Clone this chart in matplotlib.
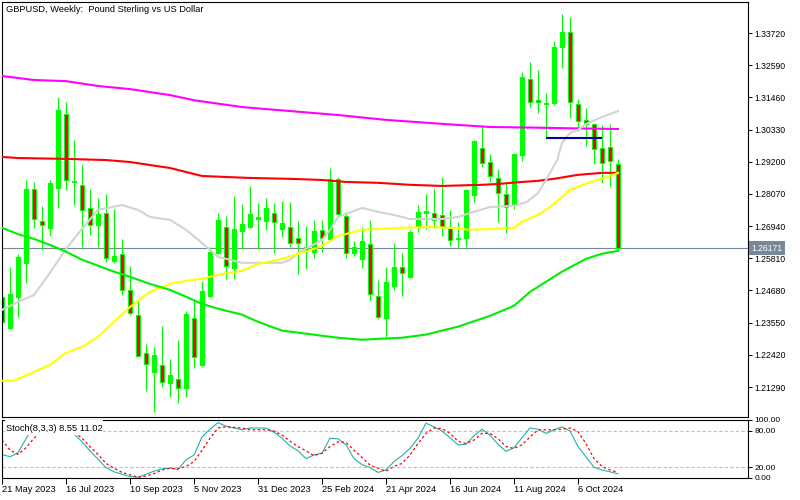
import matplotlib
matplotlib.use('Agg')
import matplotlib.pyplot as plt
import matplotlib.transforms as mtransforms
from matplotlib.patches import Rectangle
import numpy as np

plt.rcParams['font.family'] = ['Liberation Sans', 'DejaVu Sans']

# weekly candles, first bar = week of 21 May 2023
opens = [1.2445, 1.2337, 1.2445, 1.2565, 1.2824, 1.2712, 1.2688, 1.2828, 1.3088, 1.2850,
         1.2838, 1.2758, 1.2698, 1.2740, 1.2572, 1.2596, 1.2470, 1.2382, 1.2249, 1.2182,
         1.2207, 1.2144, 1.2158, 1.2126, 1.2372, 1.2207, 1.2449, 1.2600, 1.2691, 1.2547,
         1.2677, 1.2691, 1.2719, 1.2712, 1.2740, 1.2684, 1.2691, 1.2653, 1.2621, 1.2603,
         1.2681, 1.2649, 1.2859, 1.2730, 1.2600, 1.2579, 1.2631, 1.2449, 1.2372, 1.2484,
         1.2551, 1.2516, 1.2691, 1.2740, 1.2740, 1.2733, 1.2688, 1.2649, 1.2653, 1.2803,
         1.2968, 1.2919, 1.2863, 1.2807, 1.2772, 1.2944, 1.3210, 1.3137, 1.3123, 1.3126,
         1.3323, 1.3375, 1.3123, 1.3067, 1.3053, 1.2968, 1.2972, 1.2912]
highs = [1.2470, 1.2551, 1.2596, 1.2856, 1.2849, 1.2765, 1.2856, 1.3147, 1.3130, 1.2998,
         1.2909, 1.2824, 1.2793, 1.2807, 1.2754, 1.2649, 1.2554, 1.2431, 1.2280, 1.2270,
         1.2344, 1.2228, 1.2294, 1.2396, 1.2435, 1.2502, 1.2621, 1.2740, 1.2730, 1.2800,
         1.2772, 1.2835, 1.2775, 1.2793, 1.2775, 1.2782, 1.2779, 1.2712, 1.2695, 1.2716,
         1.2716, 1.2898, 1.2867, 1.2744, 1.2642, 1.2691, 1.2716, 1.2505, 1.2551, 1.2635,
         1.2600, 1.2681, 1.2768, 1.2807, 1.2824, 1.2867, 1.2751, 1.2709, 1.2824, 1.2996,
         1.3049, 1.2947, 1.2895, 1.2849, 1.2951, 1.3235, 1.3270, 1.3242, 1.3161, 1.3344,
         1.3439, 1.3428, 1.3140, 1.3109, 1.3056, 1.3049, 1.3053, 1.2930]
lows = [1.2310, 1.2333, 1.2375, 1.2495, 1.2688, 1.2610, 1.2660, 1.2758, 1.2821, 1.2768,
        1.2621, 1.2663, 1.2621, 1.2568, 1.2565, 1.2452, 1.2382, 1.2235, 1.2115, 1.2042,
        1.2129, 1.2094, 1.2073, 1.2094, 1.2196, 1.2203, 1.2445, 1.2596, 1.2509, 1.2509,
        1.2614, 1.2688, 1.2614, 1.2681, 1.2600, 1.2656, 1.2621, 1.2526, 1.2544, 1.2582,
        1.2603, 1.2645, 1.2733, 1.2582, 1.2589, 1.2547, 1.2431, 1.2368, 1.2305, 1.2470,
        1.2449, 1.2512, 1.2674, 1.2684, 1.2688, 1.2660, 1.2624, 1.2617, 1.2621, 1.2779,
        1.2902, 1.2849, 1.2709, 1.2670, 1.2754, 1.2923, 1.3112, 1.3091, 1.3007, 1.3119,
        1.3249, 1.3074, 1.3028, 1.2975, 1.2912, 1.2845, 1.2835, 1.2610]
closes = [1.2358, 1.2456, 1.2586, 1.2824, 1.2719, 1.2698, 1.2845, 1.3102, 1.2856, 1.2853,
          1.2751, 1.2698, 1.2737, 1.2582, 1.2589, 1.2470, 1.2389, 1.2238, 1.2210, 1.2242,
          1.2147, 1.2172, 1.2126, 1.2386, 1.2235, 1.2466, 1.2603, 1.2716, 1.2554, 1.2684,
          1.2702, 1.2737, 1.2726, 1.2758, 1.2709, 1.2705, 1.2635, 1.2635, 1.2610, 1.2677,
          1.2653, 1.2859, 1.2737, 1.2600, 1.2621, 1.2642, 1.2456, 1.2375, 1.2498, 1.2551,
          1.2530, 1.2674, 1.2744, 1.2747, 1.2716, 1.2691, 1.2645, 1.2653, 1.2821, 1.2993,
          1.2916, 1.2870, 1.2810, 1.2761, 1.2947, 1.3217, 1.3130, 1.3130, 1.3127, 1.3323,
          1.3375, 1.3130, 1.3063, 1.3053, 1.2965, 1.2916, 1.2923, 1.26171]

last_price = 1.26171
level_price = 1.3004

# moving averages (bar index, price)
ma_magenta_idx = [0, 4, 8, 12, 16, 21, 24, 30, 36, 42, 48, 55, 61, 66, 72, 77]
ma_magenta = [1.3221, 1.3207, 1.3203, 1.3186, 1.3175, 1.3154, 1.3136, 1.3112, 1.3098, 1.3084,
              1.3067, 1.3053, 1.3042, 1.3040, 1.3037, 1.3035]
ma_red_idx = [0, 2, 8, 13, 16, 21, 25, 31, 36, 40, 43, 47, 51, 55, 60, 62, 65, 67, 69, 72, 75, 77]
ma_red = [1.2937, 1.2933, 1.2930, 1.2926, 1.2919, 1.2898, 1.2870, 1.2863, 1.2860, 1.2856, 1.2849,
          1.2846, 1.2839, 1.2835, 1.2839, 1.2842, 1.2849, 1.2853, 1.2860, 1.2874, 1.2881, 1.2881]
ma_gray_idx = [0, 2, 4, 6, 8, 10, 12, 15, 17, 18.5, 21, 23, 25, 27, 30, 35, 36, 37, 40, 41, 42,
               45, 47, 49, 51, 55, 57, 58.5, 61, 64, 65.6, 67, 68, 69.4, 70, 71, 72, 73, 75, 77]
ma_gray = [1.2400, 1.2428, 1.2452, 1.2530, 1.2614, 1.2684, 1.2751, 1.2768, 1.2751, 1.2726,
           1.2716, 1.2681, 1.2635, 1.2586, 1.2565, 1.2565, 1.2575, 1.2600, 1.2645, 1.2681,
           1.2726, 1.2758, 1.2744, 1.2733, 1.2719, 1.2719, 1.2726, 1.2740, 1.2761, 1.2765,
           1.2779, 1.2810, 1.2856, 1.2926, 1.2986, 1.3021, 1.3032, 1.3053, 1.3077, 1.3098]
ma_yellow_idx = [0, 1.4, 2.6, 4, 6, 8, 10, 12, 14, 16, 18.5, 21, 23, 25, 27, 30, 32, 35, 37, 40,
                 42, 45, 47, 50, 53.5, 56, 58.5, 61, 64, 65, 67, 68.5, 70, 71, 72.6, 74.4, 76, 77]
ma_yellow = [1.2151, 1.2151, 1.2165, 1.2182, 1.2207, 1.2249, 1.2270, 1.2305, 1.2358, 1.2410,
             1.2463, 1.2491, 1.2502, 1.2509, 1.2523, 1.2537, 1.2561, 1.2579, 1.2596, 1.2624,
             1.2659, 1.2681, 1.2684, 1.2688, 1.2691, 1.2688, 1.2681, 1.2684, 1.2688, 1.2709,
             1.2733, 1.2761, 1.2796, 1.2821, 1.2839, 1.2856, 1.2870, 1.2881]
ma_green_idx = [0, 2, 4, 6, 8, 10, 12, 14, 16, 18.5, 21, 23, 25, 27, 30, 32, 35, 37, 40, 42,
                45, 47, 50, 53, 57, 61, 64, 66, 70, 73, 75, 77]
ma_green = [1.2688, 1.2666, 1.2649, 1.2628, 1.2604, 1.2576, 1.2555, 1.2534, 1.2516, 1.2491,
            1.2470, 1.2446, 1.2421, 1.2404, 1.2383, 1.2358, 1.2327, 1.2320, 1.2309, 1.2302,
            1.2295, 1.2298, 1.2302, 1.2313, 1.2341, 1.2379, 1.2414, 1.2463, 1.2534, 1.2579,
            1.2597, 1.2607]

stoch_main = [41, 37, 44, 67, 88, 82, 86, 94, 84, 75,
              62, 47, 33, 19, 12, 8, 4, 3, 8, 13,
              17, 18, 16, 32, 40, 70, 83, 94, 88, 85,
              82, 85, 85, 85, 78, 68, 55, 47, 34, 40,
              43, 68, 67, 57, 34, 24, 19, 11, 15, 29,
              39, 51, 68, 93, 87, 80, 69, 57, 58, 72,
              83, 73, 58, 46, 52, 69, 85, 83, 76, 82,
              87, 80, 54, 37, 19.5, 15, 12, 8.55]
stoch_signal = [65, 48, 41, 52, 68, 80, 85, 87, 86, 78,
                68, 54, 41, 26, 18, 11, 7, 3, 5, 9,
                15, 18, 17, 21, 29, 48, 68, 85, 87, 86,
                85, 82, 82, 82, 80, 73, 63, 54, 47, 39,
                43, 54, 62, 61, 48, 36, 23, 18, 13, 21,
                26, 40, 59, 76, 85, 84, 76, 63, 59, 65,
                76, 76, 67, 54, 51, 57, 70, 82, 82, 82,
                83, 85, 79, 59, 34, 21, 15, 11.02]

price_ticks = [1.33720, 1.32590, 1.31460, 1.30330, 1.29200, 1.28070, 1.26940,
               1.25810, 1.24680, 1.23550, 1.22420, 1.21290]
date_labels = ['21 May 2023', '16 Jul 2023', '10 Sep 2023', '5 Nov 2023', '31 Dec 2023',
               '25 Feb 2024', '21 Apr 2024', '16 Jun 2024', '11 Aug 2024', '6 Oct 2024']

fig = plt.figure(figsize=(8, 5), dpi=100)
ax = fig.add_axes([0.0025, 0.166, 0.9325, 0.830])
sx = fig.add_axes([0.0025, 0.044, 0.9325, 0.116])

# candles
o = np.array(opens)
c = np.array(closes)
idx = np.arange(len(o))
body = c - o
body = np.where(np.abs(body) < 0.00015, 0.00015, body)
fills = ['#00ff00' if cc >= oo else '#ff0000' for oo, cc in zip(o, c)]
ax.vlines(idx, lows, highs, color='#00ff00', lw=0.8, zorder=2)
ax.bar(idx, body, bottom=o, width=0.6, color=fills, edgecolor='#00ff00', linewidth=0.75, zorder=2)

# moving averages
ax.plot(ma_magenta_idx, ma_magenta, color='#ff00ff', lw=1.5, zorder=3)
ax.plot(ma_red_idx, ma_red, color='#ff0000', lw=1.5, zorder=3)
ax.plot(ma_gray_idx, ma_gray, color='#d3d3d3', lw=1.5, zorder=3)
ax.plot(ma_yellow_idx, ma_yellow, color='#ffff00', lw=1.5, zorder=3)
ax.plot(ma_green_idx, ma_green, color='#00ee00', lw=1.5, zorder=3)

ax.hlines(level_price, 68, 75, color='#0000a0', lw=1.5, zorder=4)
ax.axhline(last_price, color='#778899', lw=0.8, zorder=1)

ax.set_xlim(0, 93.25)
ax.set_ylim(1.20237, 1.34809)
ax.set_xticks([])
ax.yaxis.tick_right()
ax.set_yticks(price_ticks)
ax.set_yticklabels(['%.5f' % p for p in price_ticks])
ax.tick_params(axis='y', direction='out', length=3, width=0.7, labelsize=6.2, pad=1.5)

trans = mtransforms.blended_transform_factory(ax.transAxes, ax.transData)
ax.text(1.0045, last_price, '%.5f' % last_price, transform=trans, ha='left', va='center',
        color='white', fontsize=6.2, zorder=6,
        bbox=dict(boxstyle='square,pad=0.25', fc='#778899', ec='none'), clip_on=False)

ax.text(0.006, 0.993, 'GBPUSD, Weekly:  Pound Sterling vs US Dollar', transform=ax.transAxes,
        ha='left', va='top', fontsize=6.7)

# stochastic panel
sx.plot(idx, stoch_main, color='#20b2aa', lw=0.8, zorder=2)
sx.plot(idx, stoch_signal, color='#ff0000', lw=0.9, ls=(0, (2, 2)), zorder=2)
sx.axhline(80, color='#c0c0c0', lw=0.8, ls=(0, (3, 2)), zorder=1)
sx.axhline(20, color='#c0c0c0', lw=0.8, ls=(0, (3, 2)), zorder=1)
sx.add_patch(Rectangle((0.004, 0.74), 0.132, 0.26, transform=sx.transAxes,
                       fc='white', ec='none', zorder=4))
sx.text(0.006, 0.845, 'Stoch(8,3,3) 8.55 11.02', transform=sx.transAxes, ha='left',
        va='center', fontsize=6.7, zorder=5)
sx.set_xlim(0, 93.25)
sx.set_ylim(1.67, 98.33)
sx.yaxis.tick_right()
sx.set_yticks([1.67, 20, 80, 98.33])
sx.set_yticklabels(['0.00', '20.00', '80.00', '100.00'])
sx.tick_params(axis='y', direction='out', length=3, width=0.7, labelsize=6.0, pad=1.5)
sx.set_xticks(range(0, 80, 8))
sx.set_xticklabels(date_labels, ha='left')
sx.tick_params(axis='x', direction='out', length=4, width=0.7, labelsize=6.7, pad=1)

for a in (ax, sx):
    for s in a.spines.values():
        s.set_color('black')
        s.set_linewidth(0.8)

fig.savefig('out.png', dpi=100, facecolor='white')
